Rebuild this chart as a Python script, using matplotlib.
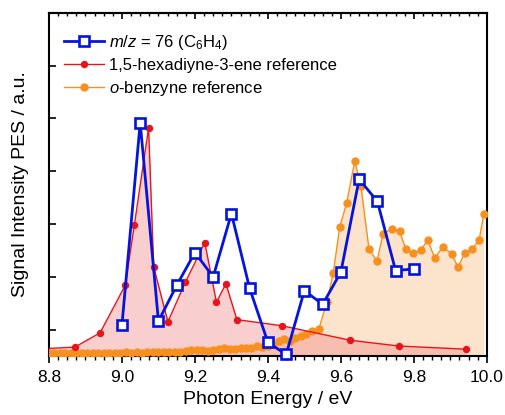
import matplotlib
matplotlib.use('Agg')
import matplotlib.pyplot as plt
from matplotlib.ticker import MultipleLocator

plt.rcParams['font.family'] = ['Liberation Sans', 'DejaVu Sans']
plt.rcParams['mathtext.fontset'] = 'custom'
plt.rcParams['mathtext.rm'] = 'Liberation Sans'
plt.rcParams['mathtext.it'] = 'Liberation Sans:italic'

# m/z = 76 signal
e_mz76 = [9.00, 9.05, 9.10, 9.15, 9.20, 9.25, 9.30, 9.35, 9.40, 9.45, 9.50, 9.55, 9.60, 9.65, 9.70, 9.75, 9.80]
s_mz76 = [0.09, 3.92, 0.16, 0.84, 1.46, 1.00, 2.20, 0.78, -0.24, -0.47, 0.74, 0.48, 1.09, 2.85, 2.43, 1.12, 1.15]

# 1,5-hexadiyne-3-ene reference
e_hex = [8.76, 8.871, 8.940, 9.009, 9.034, 9.073, 9.087, 9.126, 9.174, 9.227, 9.259, 9.285, 9.315,
         9.438, 9.625, 9.759, 9.944]
s_hex = [-0.37, -0.33, -0.06, 0.84, 1.98, 3.82, 1.19, 0.15, 0.90, 1.65, 0.52, 0.87, 0.19,
         0.075, -0.20, -0.31, -0.37]

# o-benzyne reference
e_obz = [8.800, 8.815, 8.830, 8.845, 8.860, 8.875, 8.890, 8.905, 8.920, 8.935, 8.950, 8.965,
         8.980, 8.995, 9.010, 9.025, 9.040, 9.055, 9.070, 9.085, 9.100, 9.115, 9.130, 9.145,
         9.160, 9.175, 9.190, 9.205, 9.220, 9.235, 9.250, 9.265, 9.280, 9.295, 9.310, 9.325,
         9.340, 9.355, 9.370, 9.385, 9.400, 9.415, 9.430, 9.445, 9.460, 9.475, 9.490, 9.505,
         9.520, 9.540, 9.562, 9.579, 9.597, 9.616, 9.638, 9.655, 9.677, 9.699, 9.716, 9.740,
         9.761, 9.778, 9.798, 9.819, 9.838, 9.857, 9.880, 9.904, 9.921, 9.939, 9.959, 9.979,
         9.992]
s_obz = [-0.45, -0.44, -0.45, -0.44, -0.45, -0.44, -0.45, -0.44, -0.44, -0.45, -0.44, -0.44,
         -0.45, -0.44, -0.43, -0.44, -0.43, -0.44, -0.43, -0.42, -0.43, -0.42, -0.43, -0.42,
         -0.43, -0.41, -0.39, -0.38, -0.39, -0.40, -0.38, -0.36, -0.35, -0.36, -0.37, -0.35,
         -0.35, -0.34, -0.30, -0.33, -0.30, -0.27, -0.22, -0.17, -0.21, -0.15, -0.12, -0.08,
         -0.03, 0.02, 0.53, 1.07, 1.95, 2.40, 3.19, 2.72, 1.53, 1.30, 1.82, 1.91,
         1.86, 1.53, 1.45, 1.50, 1.70, 1.36, 1.57, 1.43, 1.18, 1.45, 1.52, 1.70,
         2.20]

YMIN, YMAX = -0.5, 6.0

fig = plt.figure(figsize=(5.05, 4.15), dpi=100)
ax = fig.add_axes([0.097, 0.142, 0.867, 0.827])

ax.fill_between(e_obz, s_obz, YMIN, color='#fbc898', alpha=0.5, lw=0, zorder=1)
ax.fill_between(e_hex, s_hex, YMIN, color='#f28c8c', alpha=0.42, lw=0, zorder=2)

ax.plot(e_obz, s_obz, '-o', color='#f7901e', lw=1.0, ms=5, mec='#f7901e',
        label=r'$\mathit{o}$-benzyne reference', zorder=3)
ax.plot(e_hex, s_hex, '-o', color='#e8141c', lw=1.0, ms=4.3,
        label='1,5-hexadiyne-3-ene reference', zorder=4)
ax.plot(e_mz76, s_mz76, '-s', color='#0514dc', lw=2.0, ms=7.5, mfc='white', mew=1.9,
        label=r'$\mathit{m/z}$ = 76 (C$_6$H$_4$)', zorder=5, clip_on=False)

ax.set_xlim(8.8, 10.0)
ax.set_ylim(YMIN, YMAX)
ax.xaxis.set_major_locator(MultipleLocator(0.2))
ax.xaxis.set_minor_locator(MultipleLocator(0.025))
ax.set_yticks([0, 1, 2, 3, 4, 5])
ax.set_yticklabels([])
ax.xaxis.set_major_formatter(matplotlib.ticker.FormatStrFormatter('%.1f'))

ax.tick_params(axis='x', which='major', direction='out', length=5, width=1.2, labelsize=12.5, pad=5)
ax.tick_params(axis='x', which='minor', direction='out', length=3, width=1.0)
ax.tick_params(axis='y', which='major', direction='in', length=5, width=1.2)

top = ax.secondary_xaxis('top')
top.xaxis.set_major_locator(MultipleLocator(0.2))
top.xaxis.set_minor_locator(MultipleLocator(0.025))
top.tick_params(which='major', direction='in', length=4, width=1.2, labeltop=False)
top.tick_params(which='minor', direction='in', length=2.5, width=1.0)
top.spines['top'].set_linewidth(1.5)

for s in ax.spines.values():
    s.set_linewidth(1.5)

ax.set_xlabel('Photon Energy / eV', fontsize=14, labelpad=4)
ax.set_ylabel('Signal Intensity PES / a.u.', fontsize=14, labelpad=11)

handles, labels = ax.get_legend_handles_labels()
ax.legend(handles[::-1], labels[::-1], loc='upper left', frameon=False, fontsize=12,
          handlelength=2.4, handletextpad=0.3, labelspacing=0.36, numpoints=1,
          bbox_to_anchor=(0.0, 0.985))

fig.savefig('out.png', dpi=100)
